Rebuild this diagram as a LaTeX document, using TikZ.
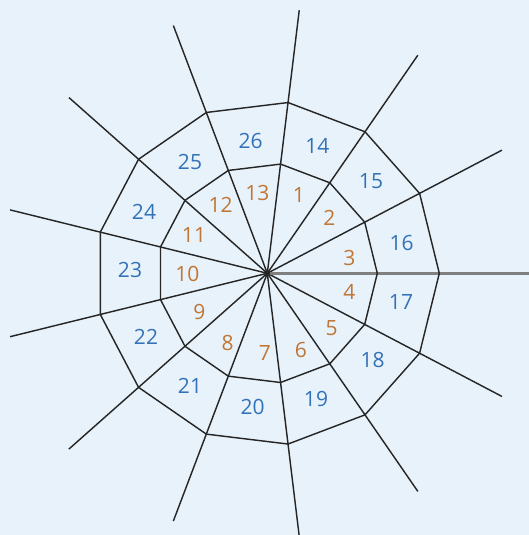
\documentclass[tikz,border=0pt]{standalone}
\usepackage{fontspec}
\setmainfont{Open Sans}
\usepackage{xcolor}
\usepackage{tikz}
\usetikzlibrary{calc}
\definecolor{webBg}{RGB}{232,242,250}
\definecolor{webLine}{RGB}{38,38,38}
\definecolor{webGray}{RGB}{128,128,128}
\definecolor{webOrange}{RGB}{192,118,54}
\definecolor{webBlue}{RGB}{50,114,184}
\tikzset{
  innum/.style={text=webOrange, font=\fontsize{11}{13}\selectfont},
  outnum/.style={text=webBlue, font=\fontsize{11}{13}\selectfont}
}

\begin{document}
\begin{tikzpicture}[x=0.0184cm, y=0.0184cm]
\fill[webBg] (-267.3,-261.7) rectangle (261.7,273.3);
\clip (-267.3,-261.7) rectangle (261.7,273.3);

% spokes
\foreach \k in {1,...,12}
  \draw[webLine, line width=0.75pt] (0,0) -- ({\k*360/13}:265);
\draw[webGray, line width=1.4pt] (0,0) -- (0:265);

% the two rings
\draw[webLine, line width=0.75pt] plot[samples=14, domain=0:13] ({\x*360/13}:110) -- cycle;
\draw[webLine, line width=0.75pt] plot[samples=14, domain=0:13] ({\x*360/13}:172) -- cycle;
\fill[webLine] (0,0) circle (3);

% inner numbers
\foreach \n/\px/\py in {1/31.7/78.3, 2/62/55, 3/82/15, 4/82/-18.4, 5/64.4/-54.4,
    6/33.7/-76.7, 7/-2.3/-80, 8/-39.6/-69.4, 9/-68/-38.4, 10/-80/-1,
    11/-73.3/38.3, 12/-46.6/68.3, 13/-10/80}
  \node[innum] (in\n) at (\px,\py) {\n};
% outer numbers
\foreach \n/\px/\py in {14/50/127.3, 15/103.7/92.3, 16/134.4/30.6, 17/133.7/-28.4,
    18/105.4/-86.7, 19/48.7/-126, 20/-14.6/-133.4, 21/-77.3/-112.7,
    22/-121.3/-63.4, 23/-137.3/3.3, 24/-123.3/61.6, 25/-77.3/111.6, 26/-16.6/132.6}
  \node[outnum] (out\n) at (\px,\py) {\n};
\end{tikzpicture}
\end{document}
